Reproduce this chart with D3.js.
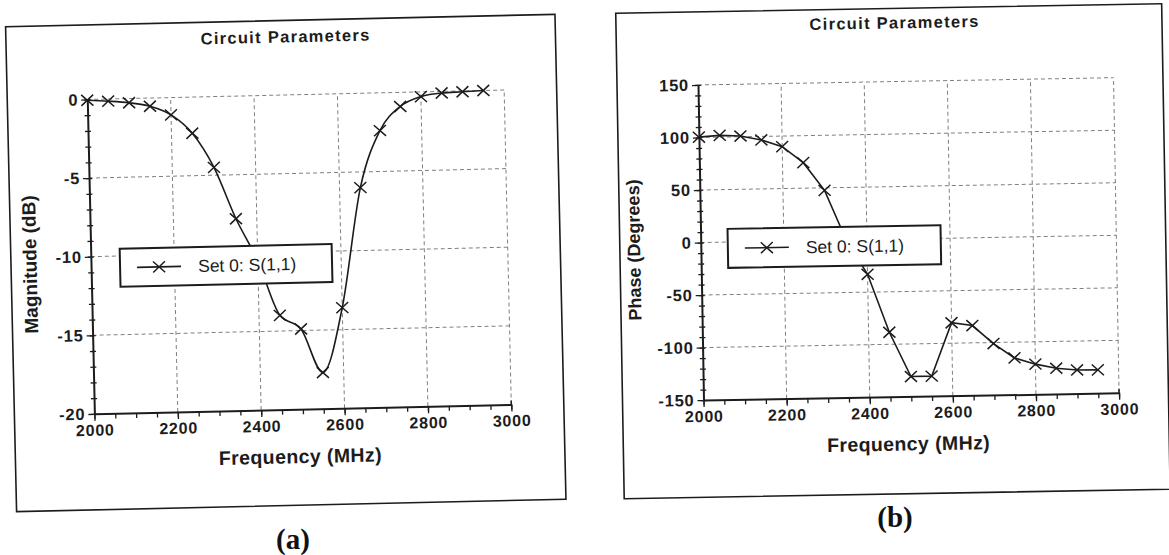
<!DOCTYPE html>
<html><head><meta charset="utf-8">
<script src="https://cdn.jsdelivr.net/npm/d3@7"></script>
<style>
html,body{margin:0;padding:0;background:#fff;}
svg{display:block;}
svg text{font-family: Arial, Helvetica, "Liberation Sans", sans-serif;}
svg text.cap{font-family: "Times New Roman", Times, "Liberation Serif", serif;}
</style></head><body>
<svg id="chart" width="1169" height="555"></svg>
<script>
// ---- data ----
const frequencies = [2000,2050,2100,2150,2200,2250,2300,2350,2400,2450,2500,2550,2600,2650,2700,2750,2800,2850,2900,2950];
const magnitudeDb = [-0.05,-0.14,-0.27,-0.52,-1.1,-2.3,-4.5,-7.8,-10.5,-14.0,-14.9,-17.7,-13.6,-6.0,-2.4,-0.9,-0.3,-0.1,-0.05,0];
const phaseDeg = [100.3,101.7,100.7,96.6,89.9,74.3,47.6,0,-33,-88.5,-131,-131,-80.5,-83.5,-101,-115,-121.3,-125.5,-127.5,-127.8];
const freqTicks = [2000,2200,2400,2600,2800,3000];
const magTicks = [0,-5,-10,-15,-20];
const phaseTicks = [150,100,50,0,-50,-100,-150];
const chartTitle = "Circuit Parameters";
const xTitle = "Frequency (MHz)";
const legendLabel = "Set 0: S(1,1)";

const svg = d3.select("#chart");
const INK = "#1c1c1c";
const GRID = "#808080";
const fmt = d => String(d);

function drawPanel(o) {
  const g = svg.append("g").attr("transform", `rotate(${o.angle},${o.cx},${o.cy})`);
  g.append("rect").attr("x", o.box[0]).attr("y", o.box[1])
    .attr("width", o.box[2]-o.box[0]).attr("height", o.box[3]-o.box[1])
    .attr("fill", "none").attr("stroke", INK).attr("stroke-width", 1.6);

  const x = d3.scaleLinear().domain([2000, 3000]).range([o.px0, o.px1]);
  const y = d3.scaleLinear().domain(o.yDomain).range([o.py1, o.py0]);

  const grid = g.append("g").attr("stroke", GRID).attr("stroke-width", 1).attr("stroke-dasharray", "4,3");
  grid.selectAll("line.v").data(freqTicks.slice(1)).join("line")
    .attr("x1", d => x(d)).attr("x2", d => x(d)).attr("y1", y(o.yDomain[0])).attr("y2", y(o.yDomain[1]));
  grid.selectAll("line.h").data(o.yTicks.filter(d => d !== o.yDomain[0])).join("line")
    .attr("y1", d => y(d)).attr("y2", d => y(d)).attr("x1", x(2000)).attr("x2", x(3000));

  const xAxisY = y(o.yDomain[0]);
  const xm = g.append("g").attr("transform", `translate(0,${xAxisY})`)
    .call(d3.axisBottom(x).ticks(20).tickSize(5).tickSizeOuter(0).tickFormat(""));
  xm.select(".domain").remove();
  xm.selectAll("line").attr("stroke", INK).attr("stroke-width", 1.3);
  const xa = g.append("g").attr("transform", `translate(0,${xAxisY})`)
    .call(d3.axisBottom(x).tickValues(freqTicks).tickFormat(fmt).tickSize(7).tickSizeOuter(0).tickPadding(3.5));
  xa.attr("font-family", null).attr("font-size", null);
  xa.select(".domain").attr("stroke", INK).attr("stroke-width", 2);
  xa.selectAll("line").attr("stroke", INK).attr("stroke-width", 1.3);
  xa.selectAll("text").attr("font-size", 16).attr("font-weight", "bold")
    .attr("letter-spacing", "0.8px").attr("fill", INK);
  g.append("line").attr("x1", x(3000)).attr("x2", x(3000)).attr("y1", xAxisY).attr("y2", xAxisY - 4)
    .attr("stroke", INK).attr("stroke-width", 1.5);

  const yAxisX = x(2000);
  const yl = g.append("g").attr("transform", `translate(${yAxisX},0)`)
    .call(d3.axisLeft(y).ticks(o.minorCount).tickSize(3).tickSizeOuter(0).tickFormat(""));
  yl.select(".domain").remove();
  yl.selectAll("line").attr("stroke", INK).attr("stroke-width", 1.3);
  const yr = g.append("g").attr("transform", `translate(${yAxisX},0)`)
    .call(d3.axisRight(y).ticks(o.minorCount).tickSize(3).tickSizeOuter(0).tickFormat(""));
  yr.select(".domain").remove();
  yr.selectAll("line").attr("stroke", INK).attr("stroke-width", 1.3);
  const ya = g.append("g").attr("transform", `translate(${yAxisX},0)`)
    .call(d3.axisLeft(y).tickValues(o.yTicks).tickFormat(fmt).tickSize(6).tickSizeOuter(0).tickPadding(3));
  ya.attr("font-family", null).attr("font-size", null);
  ya.select(".domain").attr("stroke", INK).attr("stroke-width", 2);
  ya.selectAll("line").attr("stroke", INK).attr("stroke-width", 1.3);
  ya.selectAll("text").attr("font-size", 16.5).attr("font-weight", "bold")
    .attr("letter-spacing", "0.8px").attr("fill", INK);

  g.append("text").attr("x", o.titleX).attr("y", o.titleY).attr("text-anchor", "middle")
    .attr("font-size", 16.5).attr("font-weight", "bold").attr("letter-spacing", "1.3px").attr("fill", INK)
    .text(chartTitle);
  g.append("text").attr("x", (o.px0 + o.px1) / 2 - 3.5).attr("y", xAxisY + 54).attr("text-anchor", "middle")
    .attr("font-size", 19.5).attr("font-weight", "bold").attr("letter-spacing", "0.4px").attr("fill", INK)
    .text(xTitle);
  g.append("text").attr("transform", `translate(${o.yTitleX},${o.yTitleY}) rotate(-90)`)
    .attr("text-anchor", "middle").attr("dy", "0.35em")
    .attr("font-size", o.yTitleSize).attr("font-weight", "bold").attr("fill", INK)
    .text(o.yTitle);

  const pts = frequencies.map((f, i) => [f, o.values[i]]);
  const line = d3.line().x(d => x(d[0])).y(d => y(d[1])).curve(o.curve);
  g.append("path").datum(pts).attr("d", line).attr("fill", "none")
    .attr("stroke", INK).attr("stroke-width", 1.6);
  const mk = g.append("g").attr("stroke", INK).attr("stroke-width", 1.5).attr("fill", "none");
  const s = 6, t = 5.5;
  mk.selectAll("path").data(pts).join("path")
    .attr("d", d => { const cx = x(d[0]), cy = y(d[1]);
      return `M${cx-s},${cy-t}L${cx+s},${cy+t}M${cx-s},${cy+t}L${cx+s},${cy-t}`; });

  const L = o.legend;
  const lg = g.append("g").attr("transform", `translate(${L[0]},${L[1]})`);
  lg.append("rect").attr("width", L[2]).attr("height", L[3]).attr("fill", "#fff")
    .attr("stroke", INK).attr("stroke-width", 2);
  const my = L[3] / 2;
  lg.append("line").attr("x1", 17).attr("x2", 61).attr("y1", my).attr("y2", my)
    .attr("stroke", INK).attr("stroke-width", 1.6);
  lg.append("path").attr("d", `M${39-s},${my-t}L${39+s},${my+t}M${39-s},${my+t}L${39+s},${my-t}`)
    .attr("stroke", INK).attr("stroke-width", 1.5);
  lg.append("text").attr("x", 78).attr("y", my).attr("dy", "0.35em")
    .attr("font-size", 17.5).attr("fill", INK).text(legendLabel);
}

drawPanel({
  angle: -1.3, cx: 286, cy: 262,
  box: [11, 20.5, 560.5, 505.5],
  px0: 91, px1: 508, py0: 95, py1: 409.5,
  yDomain: [-20, 0], yTicks: magTicks, minorCount: 20,
  values: magnitudeDb, curve: d3.curveMonotoneX,
  titleX: 290.7, titleY: 42.5,
  yTitle: "Magnitude (dB)", yTitleX: 30, yTitleY: 258.7, yTitleSize: 19,
  legend: [120, 245, 212, 38]
});

drawPanel({
  angle: -1.0, cx: 892, cy: 255,
  box: [620, 8.5, 1166, 494],
  px0: 701, px1: 1116.6, py0: 81.6, py1: 396.8,
  yDomain: [-150, 150], yTicks: phaseTicks, minorCount: 30,
  values: phaseDeg, curve: d3.curveLinear,
  titleX: 898.6, titleY: 28.5,
  yTitle: "Phase (Degrees)", yTitleX: 634, yTitleY: 245.5, yTitleSize: 18,
  legend: [728, 226, 213, 39]
});

svg.append("text").attr("class", "cap").attr("x", 293).attr("y", 549).attr("text-anchor", "middle")
  .attr("font-weight", "bold").attr("font-size", 29).attr("fill", "#111").text("(a)");
svg.append("text").attr("class", "cap").attr("x", 895).attr("y", 527).attr("text-anchor", "middle")
  .attr("font-weight", "bold").attr("font-size", 29).attr("fill", "#111").text("(b)");
</script>
</body></html>
